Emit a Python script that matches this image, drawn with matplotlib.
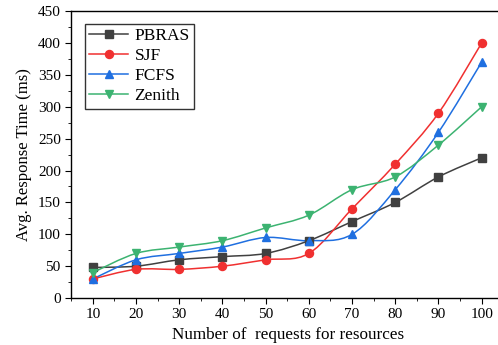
import numpy as np
import matplotlib.pyplot as plt
from matplotlib.path import Path
from matplotlib.patches import PathPatch
from matplotlib.ticker import MultipleLocator

plt.rcParams['font.family'] = ['Liberation Serif', 'DejaVu Serif']

requests = [10, 20, 30, 40, 50, 60, 70, 80, 90, 100]
pbras = [48, 50, 60, 65, 70, 90, 120, 150, 190, 220]
sjf = [30, 45, 45, 50, 60, 70, 140, 210, 290, 400]
fcfs = [30, 60, 70, 80, 95, 90, 100, 170, 260, 370]
zenith = [40, 70, 80, 90, 110, 130, 170, 190, 240, 300]

series = [
    ("PBRAS", pbras, "#404040", "s"),
    ("SJF", sjf, "#f03030", "o"),
    ("FCFS", fcfs, "#1f6fe0", "^"),
    ("Zenith", zenith, "#3cb371", "v"),
]


def smooth_path(x, y):
    # Catmull-Rom curve through the points, written as cubic Bezier segments
    x = np.asarray(x, float)
    y = np.asarray(y, float)
    pts = np.column_stack([x, y])
    verts = [pts[0]]
    codes = [Path.MOVETO]
    n = len(pts)
    for i in range(n - 1):
        p0 = pts[i - 1] if i > 0 else pts[i]
        p1 = pts[i]
        p2 = pts[i + 1]
        p3 = pts[i + 2] if i + 2 < n else pts[i + 1]
        c1 = p1 + (p2 - p0) / 6.0
        c2 = p2 - (p3 - p1) / 6.0
        verts += [c1, c2, p2]
        codes += [Path.CURVE4] * 3
    return Path(verts, codes)


fig = plt.figure(figsize=(4.98, 3.45), dpi=100)
ax = fig.add_axes([0.143, 0.136, 0.872, 0.832])

for name, vals, color, marker in series:
    ax.add_patch(PathPatch(smooth_path(requests, vals), facecolor='none',
                           edgecolor=color, lw=1.1))
    ax.plot([], [], color=color, lw=1.1, marker=marker, ms=5.8, label=name)
    ax.plot(requests, vals, ls='none', marker=marker, ms=5.8, color=color)

ax.set_xlim(5, 105.5)
ax.set_ylim(0, 450)
ax.set_xticks(requests)
ax.yaxis.set_major_locator(MultipleLocator(50))
ax.xaxis.set_minor_locator(MultipleLocator(5))
ax.yaxis.set_minor_locator(MultipleLocator(25))
ax.tick_params(which='both', direction='out', labelsize=11)
ax.tick_params(which='major', length=4)
ax.tick_params(which='minor', length=2.5)
for sp in ax.spines.values():
    sp.set_linewidth(1.0)

ax.set_xlabel("Number of  requests for resources", fontsize=12.3)
ax.set_ylabel("Avg. Response Time (ms)", fontsize=12)

leg = ax.legend(loc='upper left', fontsize=12.5, frameon=True, fancybox=False,
                edgecolor='black', handlelength=2.2, borderpad=0.25,
                labelspacing=0.22, handletextpad=0.4, borderaxespad=0,
                bbox_to_anchor=(0.032, 0.955))
leg.get_frame().set_linewidth(1.0)

fig.savefig("out.png", dpi=100)
